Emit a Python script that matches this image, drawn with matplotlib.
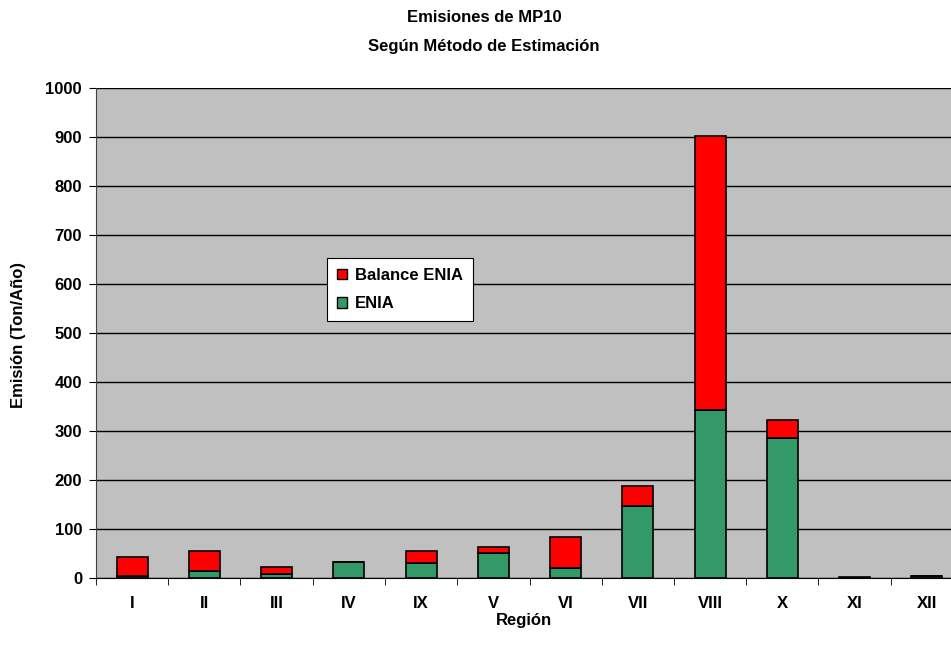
import numpy as np
import matplotlib.pyplot as plt
from matplotlib.patches import Patch

plt.rcParams['font.family'] = ['Liberation Sans', 'DejaVu Sans']
plt.rcParams['font.weight'] = 'bold'

regiones = ['I', 'II', 'III', 'IV', 'IX', 'V', 'VI', 'VII', 'VIII', 'X', 'XI', 'XII']
enia = [5, 15, 8, 32, 31, 51, 21, 146, 343, 285, 1, 5]
balance_enia = [38, 40, 14, 0, 24, 12, 62, 42, 559, 37, 1, 0]

RED = '#FF0000'
GREEN = '#339966'
FS = 12

fig = plt.figure(figsize=(9.51, 6.49), dpi=100)
ax = fig.add_axes([96 / 951, 1 - 578 / 649, 867 / 951, 490 / 649])
ax.set_facecolor('#C0C0C0')

x = np.arange(len(regiones))
ax.bar(x, enia, width=0.43, color=GREEN, edgecolor='black', linewidth=1.2,
       label='ENIA', zorder=3)
ax.bar(x, balance_enia, width=0.43, bottom=enia, color=RED,
       edgecolor='black', linewidth=1.2, label='Balance ENIA', zorder=3)

ax.set_ylim(0, 1000)
ax.set_xlim(-0.5, len(regiones) - 0.5)
ax.set_yticks(np.arange(0, 1001, 100))
ax.yaxis.grid(True, color='black', linewidth=1)
ax.set_axisbelow(True)

ax.set_xticks(x)
ax.set_xticklabels(regiones)
ax.set_xticks(np.arange(-0.5, len(regiones), 1), minor=True)
ax.tick_params(axis='x', which='major', length=0, pad=13, labelsize=FS)
ax.tick_params(axis='x', which='minor', length=5, color='black')
ax.tick_params(axis='y', length=5, labelsize=FS, pad=5)

for s in ['top', 'right']:
    ax.spines[s].set_visible(False)
ax.spines['left'].set_color('#404040')
ax.spines['bottom'].set_color('black')

fig.text(19 / 951, 1 - 335 / 649, 'Emisión (Ton/Año)', ha='center', va='center',
         rotation=90, fontsize=FS, fontweight='bold')
fig.text(524 / 951, 1 - 621 / 649, 'Región', ha='center', va='center',
         fontsize=FS, fontweight='bold')
fig.text(484 / 951, 1 - 18 / 649, 'Emisiones de MP10', ha='center', va='center',
         fontsize=FS, fontweight='bold')
fig.text(484 / 951, 1 - 46 / 649, 'Según Método de Estimación', ha='center',
         va='center', fontsize=FS, fontweight='bold')

handles = [Patch(facecolor=RED, edgecolor='black'),
           Patch(facecolor=GREEN, edgecolor='black')]
leg = ax.legend(handles, ['Balance ENIA', 'ENIA'], loc='upper left',
                bbox_to_anchor=((327 - 96) / 867, 1 - (258 - 88) / 490),
                borderaxespad=0, fancybox=False, framealpha=1, edgecolor='black',
                handlelength=0.6, handleheight=0.6, handletextpad=0.5,
                borderpad=0.6, labelspacing=0.8, prop={'size': FS, 'weight': 'bold'})
leg.get_frame().set_linewidth(0.8)

fig.savefig('out.png', dpi=100)
